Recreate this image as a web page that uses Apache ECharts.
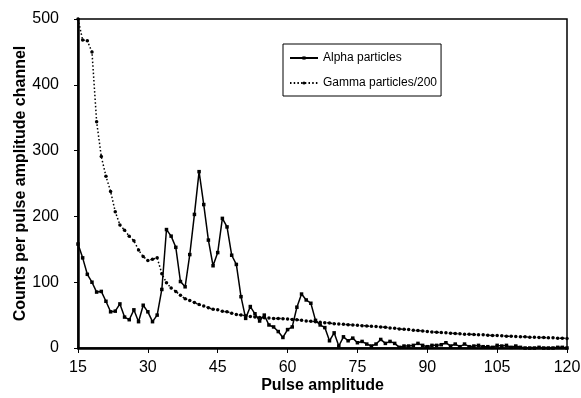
<!DOCTYPE html>
<html>
<head>
<meta charset="utf-8">
<script src="https://cdn.jsdelivr.net/npm/echarts@6/dist/echarts.min.js"></script>
<style>
html,body{margin:0;padding:0;background:#fff;}
#chart{width:581px;height:398px;}
</style>
</head>
<body>
<div id="chart"></div>
<script>
const firstChannel = 15;
const alphaCounts = [
  158,137,112,100,85,86,71,55,56,67,
  47,43,58,40,65,55,40,50,89,180,
  170,153,101,93,142,203,268,218,164,125,
  145,197,184,141,127,78,45,63,52,41,
  50,35,32,25,16,28,32,62,82,73,
  68,42,35,31,11,23,3,17,11,15,
  8,10,6,3,6,13,7,10,7,1,
  3,3,4,7,4,2,4,4,5,8,
  3,6,2,6,2,3,4,2,2,1,
  4,3,4,1,3,1,0,0,0,1,
  0,0,0,1,1,0
];
const gammaCounts = [
  500,468,467,450,344,291,261,238,207,187,
  179,170,163,149,139,133,135,137,113,99,
  91,86,80,75,72,69,66,64,61,59,
  58,56,55,53,51,50,49,48,47,46.5,
  46,45.5,45,45,44.5,44,43.5,43,42,41,
  40.5,40,39,38.5,38,37,36.5,36,35.5,35,
  34.5,34,33.5,33,32.5,32,31.5,30.5,30,29,
  28.5,28,27,26.5,26,25,24.5,24,23.5,23,
  22.5,22,21.5,21,21,20.5,20,20,19.5,19,
  19,18.5,18,18,17.5,17,17,16.5,16.5,16,
  16,15.5,15.5,15,15,14.5
];
const seriesNames = ['Alpha particles', 'Gamma particles/200'];
const xTitle = 'Pulse amplitude';
const yTitle = 'Counts per pulse amplitude channel';

const toPairs = arr => arr.map((v, i) => [firstChannel + i, v]);
const FONT = '"Liberation Sans", Arial, sans-serif';

const chart = echarts.init(document.getElementById('chart'), null, {renderer: 'canvas'});
chart.setOption({
  animation: false,
  backgroundColor: '#fff',
  textStyle: {fontFamily: FONT, color: '#000'},
  grid: {
    left: 78, right: 14, top: 19, bottom: 50,
    containLabel: false,
    outerBoundsMode: 'none',
    show: true, borderColor: '#000', borderWidth: 1.5, backgroundColor: 'transparent'
  },
  legend: {
    orient: 'vertical',
    left: 283, top: 44,
    padding: [7, 4, 6, 6],
    itemGap: 11,
    itemWidth: 28, itemHeight: 4,
    borderColor: '#000', borderWidth: 1,
    textStyle: {fontFamily: FONT, fontSize: 12, color: '#000', lineHeight: 14},
    data: seriesNames
  },
  xAxis: {
    type: 'value', min: 15, max: 120, interval: 15,
    name: xTitle, nameLocation: 'middle', nameGap: 30,
    nameMoveOverlap: false,
    nameTextStyle: {fontFamily: FONT, fontSize: 16, fontWeight: 'bold', color: '#000'},
    axisLine: {show: true, lineStyle: {color: '#000', width: 2.5}},
    axisTick: {show: true, length: 5, lineStyle: {color: '#000', width: 1}},
    axisLabel: {fontFamily: FONT, fontSize: 16, color: '#000', margin: 12},
    splitLine: {show: false}
  },
  yAxis: {
    type: 'value', min: 0, max: 500, interval: 100,
    name: yTitle, nameLocation: 'middle', nameGap: 49,
    nameMoveOverlap: false,
    nameTextStyle: {fontFamily: FONT, fontSize: 16, fontWeight: 'bold', color: '#000'},
    axisLine: {show: true, lineStyle: {color: '#000', width: 2.5}},
    axisTick: {show: true, length: 4, lineStyle: {color: '#000', width: 1}},
    axisLabel: {fontFamily: FONT, fontSize: 16, color: '#000', margin: 19},
    splitLine: {show: false}
  },
  series: [
    {
      name: seriesNames[0], type: 'line',
      data: toPairs(alphaCounts),
      symbol: 'rect', symbolSize: 3.5, showAllSymbol: true,
      lineStyle: {color: '#000', width: 1.5},
      itemStyle: {color: '#000'},
      z: 3
    },
    {
      name: seriesNames[1], type: 'line',
      data: toPairs(gammaCounts),
      symbol: 'circle', symbolSize: 3.5, showAllSymbol: true,
      lineStyle: {color: '#000', width: 1.5, type: [1.5, 2.2]},
      itemStyle: {color: '#000'},
      z: 2
    }
  ]
});
</script>
</body>
</html>
